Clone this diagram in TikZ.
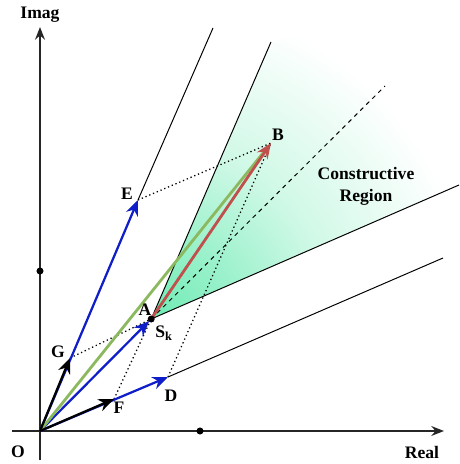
\documentclass[tikz,border=0pt]{standalone}
\usepackage{fontspec}
\setmainfont{Liberation Serif}
\usetikzlibrary{arrows.meta}
\definecolor{vecblue}{RGB}{15,30,200}
\definecolor{vecred}{RGB}{192,80,77}
\definecolor{vecgreen}{RGB}{140,185,95}
\definecolor{mint}{RGB}{110,235,180}
\pgfdeclareradialshading{conefade}{\pgfpoint{0bp}{0bp}}{color(0bp)=(mint); color(6bp)=(mint!72!white); color(14bp)=(mint!32!white); color(25bp)=(white); color(50bp)=(white)}

\begin{document}
\begin{tikzpicture}[>=Stealth, font=\fontsize{12.5}{15.5}\selectfont\bfseries,
  axis/.style={draw=black!85, line width=1.1pt, -{Stealth[length=9pt, width=7pt]}},
  vec/.style={line width=1.6pt, -{Stealth[length=11pt, width=9pt]}},
  bound/.style={line width=0.7pt},
  proj/.style={dotted, line width=0.9pt},
  pt/.style={circle, fill=black, inner sep=0pt, minimum size=5pt}]

\useasboundingbox (-1,-0.825) rectangle (10.475,10.775);

% Points of the construction
\coordinate (O) at (0,0);
\coordinate (G) at (0.75,1.825);
\coordinate (F) at (1.85,0.8);
\coordinate (A) at (2.78,2.8);
\coordinate (E) at (2.45,5.775);
\coordinate (D) at (3.2,1.35);
\coordinate (B) at (5.775,7.2);

% Far ends of the boundary lines
\coordinate (Eend) at (4.325,10.075);
\coordinate (Dend) at (10.075,4.325);
\coordinate (Aup) at (5.775,9.725);
\coordinate (Alow) at (10.475,6.15);
\coordinate (Amid) at (8.625,8.625);
\coordinate (corner) at (10.475,10.775);

% Axis ends
\coordinate (xmin) at (-0.7,0);
\coordinate (xmax) at (10.1,0);
\coordinate (ymin) at (0,-0.725);
\coordinate (ymax) at (0,10.1);

% Constructive region, fading away from A
\begin{scope}
  \clip (A) -- (Aup) -- (corner) -- (Alow) -- cycle;
  \shade[shading=conefade] (A) circle (8);
\end{scope}

% Axes
\draw[axis] (xmin) -- (xmax);
\draw[axis] (ymin) -- (ymax);
\node[pt] (xdot) at (4,0) {};
\node[pt] (ydot) at (0,4) {};

% Boundary lines
\draw[bound] (E) -- (Eend);
\draw[bound] (D) -- (Dend);
\draw[bound] (A) -- (Aup);
\draw[bound] (A) -- (Alow);
\draw[bound, dashed] (A) -- (Amid);

% Parallelogram completions
\draw[proj] (G) -- (A);
\draw[proj] (F) -- (A);
\draw[proj] (E) -- (B);
\draw[proj] (D) -- (B);

% Vectors
\draw[vec, vecblue] (O) -- (E);
\draw[vec, vecblue] (O) -- (D);
\draw[vec, vecblue, shorten >=2pt] (O) -- (A);
\draw[line width=2pt, vecgreen, shorten >=6pt] (O) -- (B);
\draw[vec, vecred, line width=2pt] (A) -- (B);
\draw[vec, black] (O) -- (G);
\draw[vec, black] (O) -- (F);
\node[pt] (Sk) at (A) {};

% Labels
\node (labImag) at (0,10.4) {Imag};
\node (labO) at (-0.55,-0.525) {O};
\node (labReal) at (9.55,-0.525) {Real};
\node (labA) at (2.625,3.025) {A};
\node (labSk) at (3.1,2.45) {S\textsubscript{k}};
\node (labG) at (0.45,1.975) {G};
\node (labF) at (1.975,0.575) {F};
\node (labD) at (3.275,0.875) {D};
\node (labE) at (2.175,5.925) {E};
\node (labB) at (5.95,7.4) {B};
\node[align=center] (labRegion) at (8.15,6.125) {Constructive\\Region};

\end{tikzpicture}
\end{document}
